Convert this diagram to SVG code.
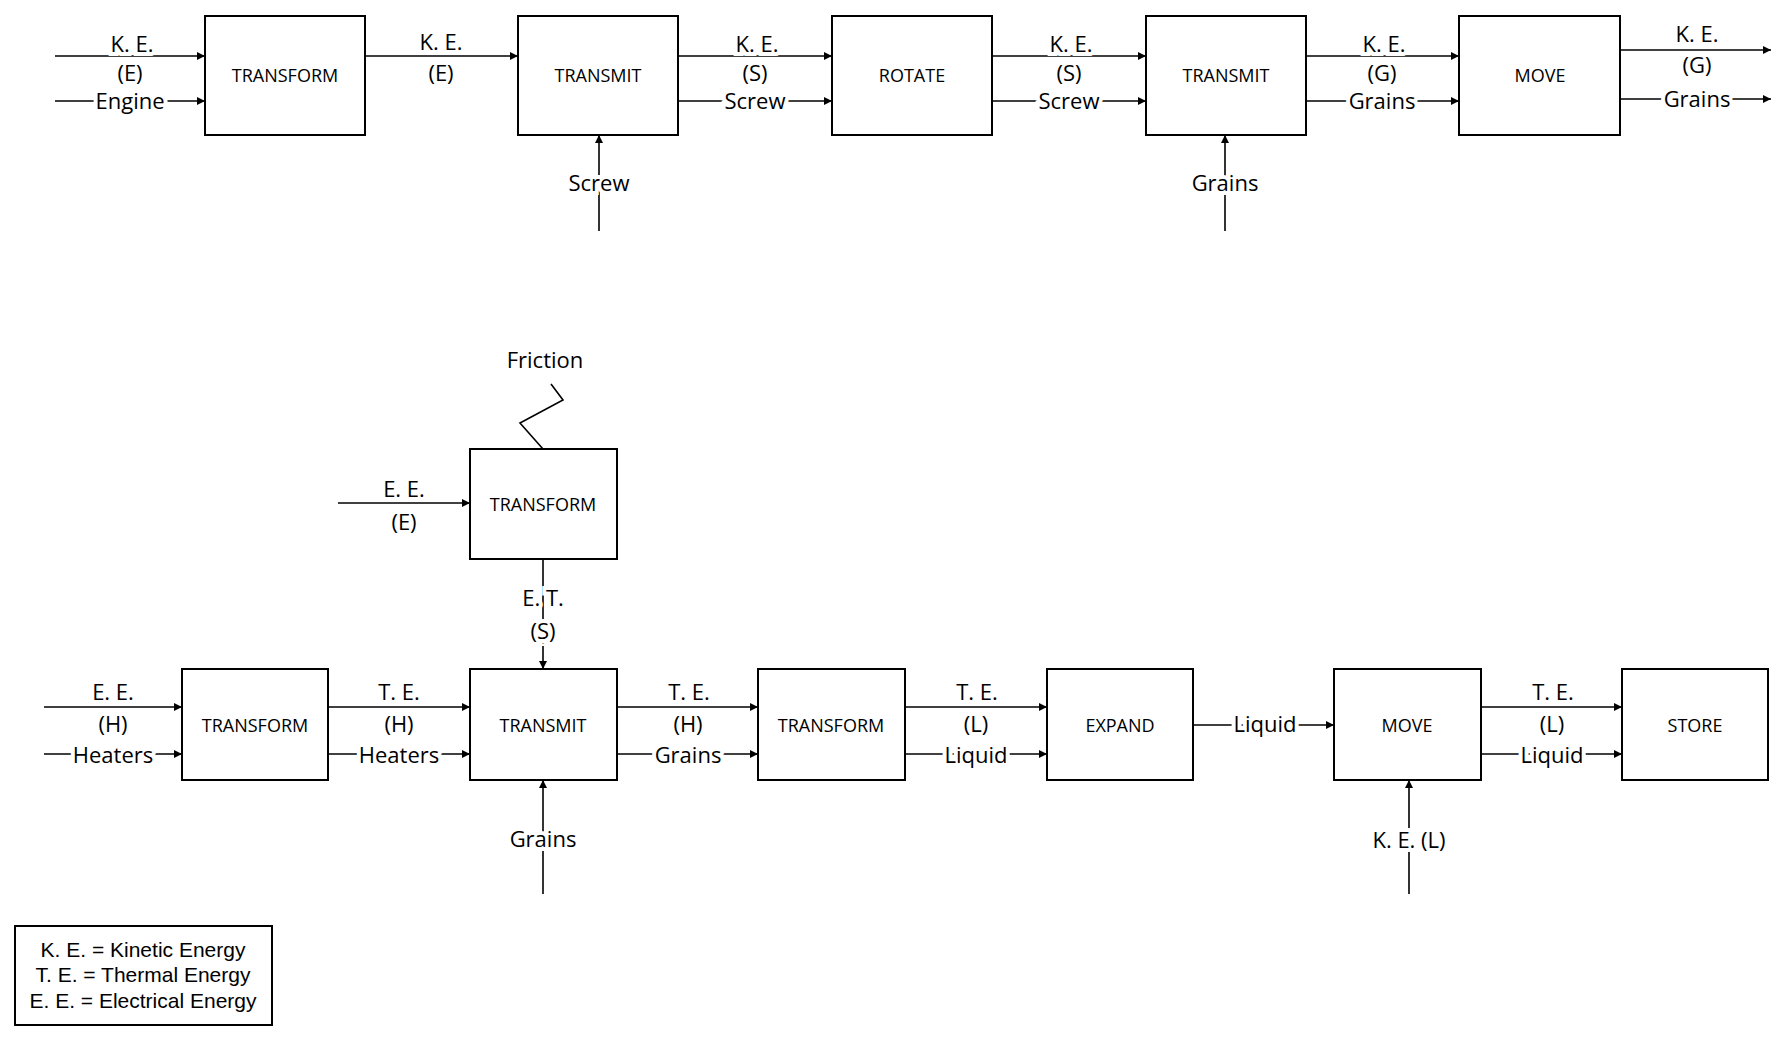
<svg xmlns="http://www.w3.org/2000/svg" width="1782" height="1038" viewBox="0 0 1782 1038">
<style>
rect{fill:#fff;stroke:#000;stroke-width:2}
.c line,.c path{stroke:#000;stroke-width:1.6;fill:none}
.a{marker-end:url(#ah)}
text{font-family:"Open Sans","Noto Sans",sans-serif;text-anchor:middle;fill:#000}
.b{font-size:18px}
.l{font-size:22px;paint-order:stroke;stroke:#fff;stroke-width:8px}
.g{font-family:"Liberation Sans",Arial,sans-serif;font-size:21px}
</style>
<defs><marker id="ah" viewBox="0 0 10 10" refX="10" refY="5" markerWidth="8" markerHeight="8" markerUnits="userSpaceOnUse" orient="auto"><path d="M0,0L10,5L0,10z" fill="#000"/></marker></defs>
<g class="c">
<line class="a" x1="55" y1="56" x2="205" y2="56"/><line class="a" x1="55" y1="101" x2="205" y2="101"/>
<line class="a" x1="365" y1="56" x2="518" y2="56"/>
<line class="a" x1="678" y1="56" x2="832" y2="56"/><line class="a" x1="678" y1="101" x2="832" y2="101"/>
<line class="a" x1="992" y1="56" x2="1146" y2="56"/><line class="a" x1="992" y1="101" x2="1146" y2="101"/>
<line class="a" x1="1306" y1="56" x2="1459" y2="56"/><line class="a" x1="1306" y1="101" x2="1459" y2="101"/>
<line class="a" x1="1620" y1="50" x2="1771" y2="50"/><line class="a" x1="1620" y1="99" x2="1771" y2="99"/>
<line class="a" x1="599" y1="231" x2="599" y2="135"/>
<line class="a" x1="1225" y1="231" x2="1225" y2="135"/>
<path d="M543,449L520,423L563,400L551,384"/>
<line class="a" x1="338" y1="503" x2="470" y2="503"/>
<line class="a" x1="543" y1="559" x2="543" y2="669"/>
<line class="a" x1="44" y1="707" x2="182" y2="707"/><line class="a" x1="44" y1="754" x2="182" y2="754"/>
<line class="a" x1="328" y1="707" x2="470" y2="707"/><line class="a" x1="328" y1="754" x2="470" y2="754"/>
<line class="a" x1="617" y1="707" x2="758" y2="707"/><line class="a" x1="617" y1="754" x2="758" y2="754"/>
<line class="a" x1="905" y1="707" x2="1047" y2="707"/><line class="a" x1="905" y1="754" x2="1047" y2="754"/>
<line class="a" x1="1193" y1="725" x2="1334" y2="725"/>
<line class="a" x1="1481" y1="707" x2="1622" y2="707"/><line class="a" x1="1481" y1="754" x2="1622" y2="754"/>
<line class="a" x1="543" y1="894" x2="543" y2="780"/>
<line class="a" x1="1409" y1="894" x2="1409" y2="780"/>
</g>
<g id="n1"><rect x="205" y="16" width="160" height="119"/><text class="b" x="285" y="82">TRANSFORM</text></g>
<g id="n2"><rect x="518" y="16" width="160" height="119"/><text class="b" x="598" y="82">TRANSMIT</text></g>
<g id="n3"><rect x="832" y="16" width="160" height="119"/><text class="b" x="912" y="82">ROTATE</text></g>
<g id="n4"><rect x="1146" y="16" width="160" height="119"/><text class="b" x="1226" y="82">TRANSMIT</text></g>
<g id="n5"><rect x="1459" y="16" width="161" height="119"/><text class="b" x="1540" y="82">MOVE</text></g>
<g id="n6"><rect x="470" y="449" width="147" height="110"/><text class="b" x="543" y="511">TRANSFORM</text></g>
<g id="n7"><rect x="182" y="669" width="146" height="111"/><text class="b" x="255" y="732">TRANSFORM</text></g>
<g id="n8"><rect x="470" y="669" width="147" height="111"/><text class="b" x="543" y="732">TRANSMIT</text></g>
<g id="n9"><rect x="758" y="669" width="147" height="111"/><text class="b" x="831" y="732">TRANSFORM</text></g>
<g id="n10"><rect x="1047" y="669" width="146" height="111"/><text class="b" x="1120" y="732">EXPAND</text></g>
<g id="n11"><rect x="1334" y="669" width="147" height="111"/><text class="b" x="1407" y="732">MOVE</text></g>
<g id="n12"><rect x="1622" y="669" width="146" height="111"/><text class="b" x="1695" y="732">STORE</text></g>
<g id="labels">
<text class="l" x="132" y="52">K. E.</text><text class="l" x="130" y="81">(E)</text><text class="l" x="130" y="109">Engine</text>
<text class="l" x="441" y="50">K. E.</text><text class="l" x="441" y="81">(E)</text>
<text class="l" x="757" y="52">K. E.</text><text class="l" x="755" y="81">(S)</text><text class="l" x="755" y="109">Screw</text>
<text class="l" x="1071" y="52">K. E.</text><text class="l" x="1069" y="81">(S)</text><text class="l" x="1069" y="109">Screw</text>
<text class="l" x="1384" y="52">K. E.</text><text class="l" x="1382" y="81">(G)</text><text class="l" x="1382" y="109">Grains</text>
<text class="l" x="1697" y="42">K. E.</text><text class="l" x="1697" y="73">(G)</text><text class="l" x="1697" y="107">Grains</text>
<text class="l" x="599" y="191">Screw</text><text class="l" x="1225" y="191">Grains</text>
<text class="l" x="545" y="368">Friction</text>
<text class="l" x="404" y="497">E. E.</text><text class="l" x="404" y="530">(E)</text>
<text class="l" x="543" y="606">E. T.</text><text class="l" x="543" y="639">(S)</text>
<text class="l" x="113" y="700">E. E.</text><text class="l" x="113" y="732">(H)</text><text class="l" x="113" y="763">Heaters</text>
<text class="l" x="399" y="700">T. E.</text><text class="l" x="399" y="732">(H)</text><text class="l" x="399" y="763">Heaters</text>
<text class="l" x="689" y="700">T. E.</text><text class="l" x="688" y="732">(H)</text><text class="l" x="688" y="763">Grains</text>
<text class="l" x="977" y="700">T. E.</text><text class="l" x="976" y="732">(L)</text><text class="l" x="976" y="763">Liquid</text>
<text class="l" x="1265" y="732">Liquid</text>
<text class="l" x="1553" y="700">T. E.</text><text class="l" x="1552" y="732">(L)</text><text class="l" x="1552" y="763">Liquid</text>
<text class="l" x="543" y="847">Grains</text><text class="l" x="1409" y="848">K. E. (L)</text>
</g>
<g id="legend"><rect x="15" y="926" width="257" height="99"/>
<text class="g" x="143" y="957">K. E. = Kinetic Energy</text>
<text class="g" x="143" y="982">T. E. = Thermal Energy</text>
<text class="g" x="143" y="1008">E. E. = Electrical Energy</text></g>
</svg>
